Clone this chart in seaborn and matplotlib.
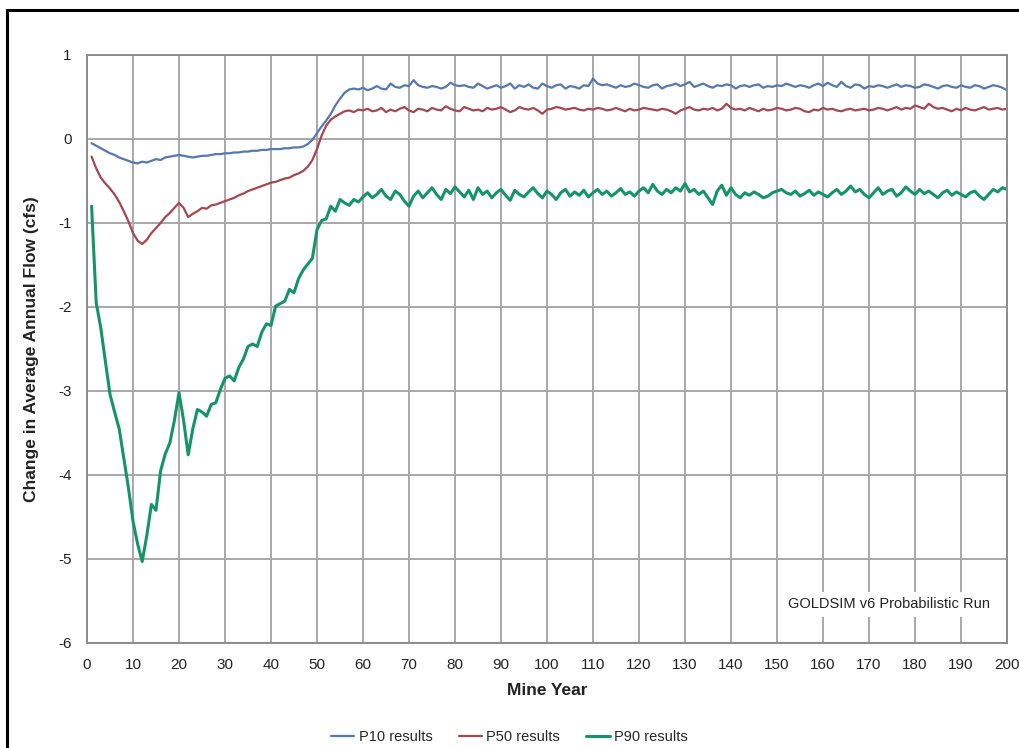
import numpy as np
import pandas as pd
import seaborn as sns
import matplotlib.pyplot as plt
from matplotlib.patches import Rectangle

years = list(range(1, 201))

p10 = [
    -0.05, -0.08, -0.11, -0.14, -0.17, -0.19, -0.22, -0.24, -0.26, -0.28,
    -0.29, -0.27, -0.28, -0.26, -0.24, -0.25, -0.22, -0.21, -0.20, -0.19,
    -0.20, -0.21, -0.22, -0.21, -0.20, -0.20, -0.19, -0.18, -0.18, -0.17,
    -0.17, -0.16, -0.16, -0.15, -0.15, -0.14, -0.14, -0.13, -0.13, -0.12,
    -0.12, -0.12, -0.11, -0.11, -0.10, -0.10, -0.09, -0.06, -0.01, 0.07,
    0.15, 0.22, 0.30, 0.40, 0.48, 0.55, 0.59, 0.60, 0.59, 0.61,
    0.58, 0.60, 0.63, 0.60, 0.59, 0.66, 0.62, 0.61, 0.64, 0.63,
    0.70, 0.64, 0.62, 0.61, 0.63, 0.62, 0.60, 0.62, 0.67, 0.64,
    0.63, 0.64, 0.62, 0.61, 0.66, 0.63, 0.60, 0.62, 0.64, 0.61,
    0.63, 0.66, 0.60, 0.64, 0.62, 0.65, 0.61, 0.60, 0.66, 0.63,
    0.61, 0.64, 0.65, 0.60, 0.63, 0.62, 0.60, 0.64, 0.63, 0.72,
    0.66, 0.64, 0.65, 0.63, 0.61, 0.64, 0.62, 0.63, 0.66, 0.64,
    0.62, 0.61, 0.64, 0.65, 0.60, 0.63, 0.64, 0.66, 0.63, 0.65,
    0.68, 0.62, 0.64, 0.66, 0.63, 0.61, 0.64, 0.63, 0.65, 0.64,
    0.60, 0.63, 0.64, 0.62, 0.64, 0.65, 0.61, 0.63, 0.62, 0.64,
    0.63, 0.66, 0.64, 0.62, 0.64, 0.63, 0.61, 0.64, 0.66, 0.63,
    0.67, 0.64, 0.62, 0.68, 0.63, 0.61, 0.65, 0.64, 0.60, 0.63,
    0.62, 0.64, 0.63, 0.61, 0.63, 0.65, 0.62, 0.64, 0.63, 0.61,
    0.62, 0.65, 0.64, 0.62, 0.60, 0.63, 0.64, 0.62, 0.61, 0.64,
    0.62, 0.61, 0.64, 0.63, 0.60, 0.62, 0.64, 0.63, 0.61, 0.58,
]

p50 = [
    -0.21, -0.35, -0.46, -0.53, -0.59, -0.66, -0.75, -0.86, -0.98, -1.12,
    -1.21, -1.25, -1.20, -1.12, -1.06, -1.00, -0.93, -0.88, -0.82, -0.76,
    -0.82, -0.93, -0.89, -0.86, -0.82, -0.83, -0.79, -0.78, -0.76, -0.74,
    -0.72, -0.70, -0.67, -0.65, -0.62, -0.60, -0.58, -0.56, -0.54, -0.52,
    -0.51, -0.49, -0.47, -0.46, -0.43, -0.41, -0.38, -0.33, -0.25, -0.12,
    0.04, 0.16, 0.23, 0.27, 0.30, 0.33, 0.34, 0.32, 0.35, 0.34,
    0.36, 0.33, 0.34, 0.37, 0.32, 0.35, 0.33, 0.36, 0.38, 0.34,
    0.32, 0.36, 0.35, 0.33, 0.37, 0.35, 0.34, 0.39, 0.36, 0.34,
    0.33, 0.38, 0.36, 0.34, 0.35, 0.33, 0.37, 0.35, 0.36, 0.38,
    0.35, 0.32, 0.34, 0.38, 0.36, 0.35, 0.37, 0.34, 0.30, 0.35,
    0.36, 0.38, 0.37, 0.35, 0.36, 0.37, 0.35, 0.34, 0.36, 0.35,
    0.37, 0.36, 0.34, 0.35, 0.37, 0.35, 0.33, 0.36, 0.34, 0.35,
    0.37, 0.36, 0.35, 0.34, 0.36, 0.35, 0.33, 0.30, 0.34, 0.36,
    0.38, 0.35, 0.34, 0.36, 0.35, 0.37, 0.34, 0.36, 0.42, 0.37,
    0.35, 0.36, 0.34, 0.37, 0.35, 0.33, 0.36, 0.34, 0.35, 0.37,
    0.36, 0.34, 0.35, 0.37, 0.36, 0.33, 0.32, 0.35, 0.34, 0.37,
    0.35, 0.36, 0.34, 0.33, 0.35, 0.36, 0.34, 0.35, 0.36, 0.34,
    0.35, 0.37, 0.36, 0.34, 0.36, 0.38, 0.35, 0.37, 0.36, 0.40,
    0.38, 0.36, 0.42, 0.38, 0.36, 0.37, 0.35, 0.33, 0.36, 0.34,
    0.37, 0.35, 0.34, 0.36, 0.38, 0.35, 0.36, 0.37, 0.35, 0.36,
]

p90 = [
    -0.80, -1.95, -2.25, -2.65, -3.04, -3.25, -3.45, -3.80, -4.15, -4.55,
    -4.82, -5.03, -4.72, -4.35, -4.42, -3.95, -3.75, -3.62, -3.35, -3.02,
    -3.35, -3.76, -3.45, -3.22, -3.25, -3.30, -3.16, -3.14, -2.98, -2.85,
    -2.82, -2.88, -2.72, -2.62, -2.47, -2.44, -2.47, -2.30, -2.20, -2.22,
    -1.99, -1.96, -1.93, -1.79, -1.83, -1.66, -1.56, -1.49, -1.42, -1.08,
    -0.97, -0.95, -0.80, -0.86, -0.72, -0.76, -0.79, -0.72, -0.75, -0.69,
    -0.64, -0.70, -0.66, -0.60, -0.68, -0.72, -0.62, -0.66, -0.74, -0.80,
    -0.68, -0.62, -0.70, -0.64, -0.58, -0.66, -0.72, -0.60, -0.65, -0.57,
    -0.63, -0.69, -0.61, -0.72, -0.58, -0.66, -0.62, -0.70, -0.64, -0.60,
    -0.67, -0.73, -0.61, -0.66, -0.69, -0.63, -0.58, -0.65, -0.70, -0.62,
    -0.66, -0.72, -0.64, -0.60, -0.68, -0.63, -0.67, -0.61, -0.69, -0.64,
    -0.60, -0.66, -0.62, -0.68, -0.64, -0.59, -0.66, -0.63, -0.68, -0.62,
    -0.58, -0.64, -0.54, -0.62, -0.66, -0.60, -0.64, -0.58, -0.62, -0.53,
    -0.63, -0.60, -0.66, -0.62, -0.70, -0.78, -0.62, -0.55, -0.67, -0.58,
    -0.66, -0.70, -0.64, -0.67, -0.63, -0.66, -0.70, -0.68, -0.64, -0.62,
    -0.60, -0.64, -0.66, -0.62, -0.68, -0.65, -0.61, -0.67, -0.63, -0.66,
    -0.69, -0.64, -0.60, -0.66, -0.62, -0.56, -0.63, -0.60, -0.66, -0.70,
    -0.64, -0.58, -0.66, -0.62, -0.60, -0.68, -0.64, -0.57, -0.62, -0.66,
    -0.60, -0.65, -0.62, -0.66, -0.70, -0.64, -0.61, -0.67, -0.63, -0.66,
    -0.69, -0.64, -0.62, -0.68, -0.72, -0.66, -0.60, -0.63, -0.58, -0.60,
]

series_names = ['P10 results', 'P50 results', 'P90 results']
colors = {'P10 results': '#5578b0', 'P50 results': '#a8464e', 'P90 results': '#15946a'}
widths = {'P10 results': 1.6, 'P50 results': 1.6, 'P90 results': 2.2}

data = pd.concat([
    pd.DataFrame({'year': years, 'flow': vals, 'series': name})
    for name, vals in zip(series_names, [p10, p50, p90])
])

sns.set_style('white')
plt.rcParams['font.family'] = ['Liberation Sans', 'DejaVu Sans']
plt.rcParams['axes.unicode_minus'] = False

fig = plt.figure(figsize=(10.19, 7.48), dpi=100)
ax = fig.add_axes([87 / 1019, 1 - 643 / 748, 920 / 1019, 588 / 748])

sns.lineplot(data=data, x='year', y='flow', hue='series', palette=colors,
             ax=ax, legend=False)
for line, name in zip(ax.lines, series_names):
    line.set_linewidth(widths[name])

ax.set_xlim(0, 200)
ax.set_ylim(-6, 1)
ax.set_xticks(np.arange(0, 201, 10))
ax.set_yticks(np.arange(-6, 2, 1))
ax.grid(True, color='#a8a8a8', linewidth=1.4)
ax.set_axisbelow(True)
for sp in ax.spines.values():
    sp.set_color('#8c8c8c')
    sp.set_linewidth(1.4)
ax.tick_params(axis='both', direction='out', length=5, width=1.2, color='#8c8c8c',
               labelsize=11, labelcolor='#222222', pad=6)

ax.set_xlabel('Mine Year', fontsize=12.5, fontweight='bold', color='#222222', labelpad=8)
ax.set_ylabel('Change in Average Annual Flow (cfs)', fontsize=12.5, fontweight='bold',
              color='#222222', labelpad=14)

ax.text(0.982, 0.066, 'GOLDSIM v6 Probabilistic Run', transform=ax.transAxes,
        ha='right', va='center', fontsize=10.5, color='#222222',
        bbox=dict(facecolor='white', edgecolor='none', pad=4))

handles = [plt.Line2D([], [], color=colors[n], linewidth=widths[n]) for n in series_names]
fig.legend(handles, series_names, loc='center', bbox_to_anchor=(0.5, 1 - 737 / 748),
           ncol=3, frameon=False, fontsize=10.5, handlelength=1.6, handletextpad=0.3,
           columnspacing=1.8)

fig.patches.append(Rectangle((7 / 1019, -0.1), 1.2, 1.1 - 10 / 748, transform=fig.transFigure,
                             fill=False, edgecolor='black', linewidth=2.2))

fig.savefig('out.png', dpi=100, facecolor='white')
